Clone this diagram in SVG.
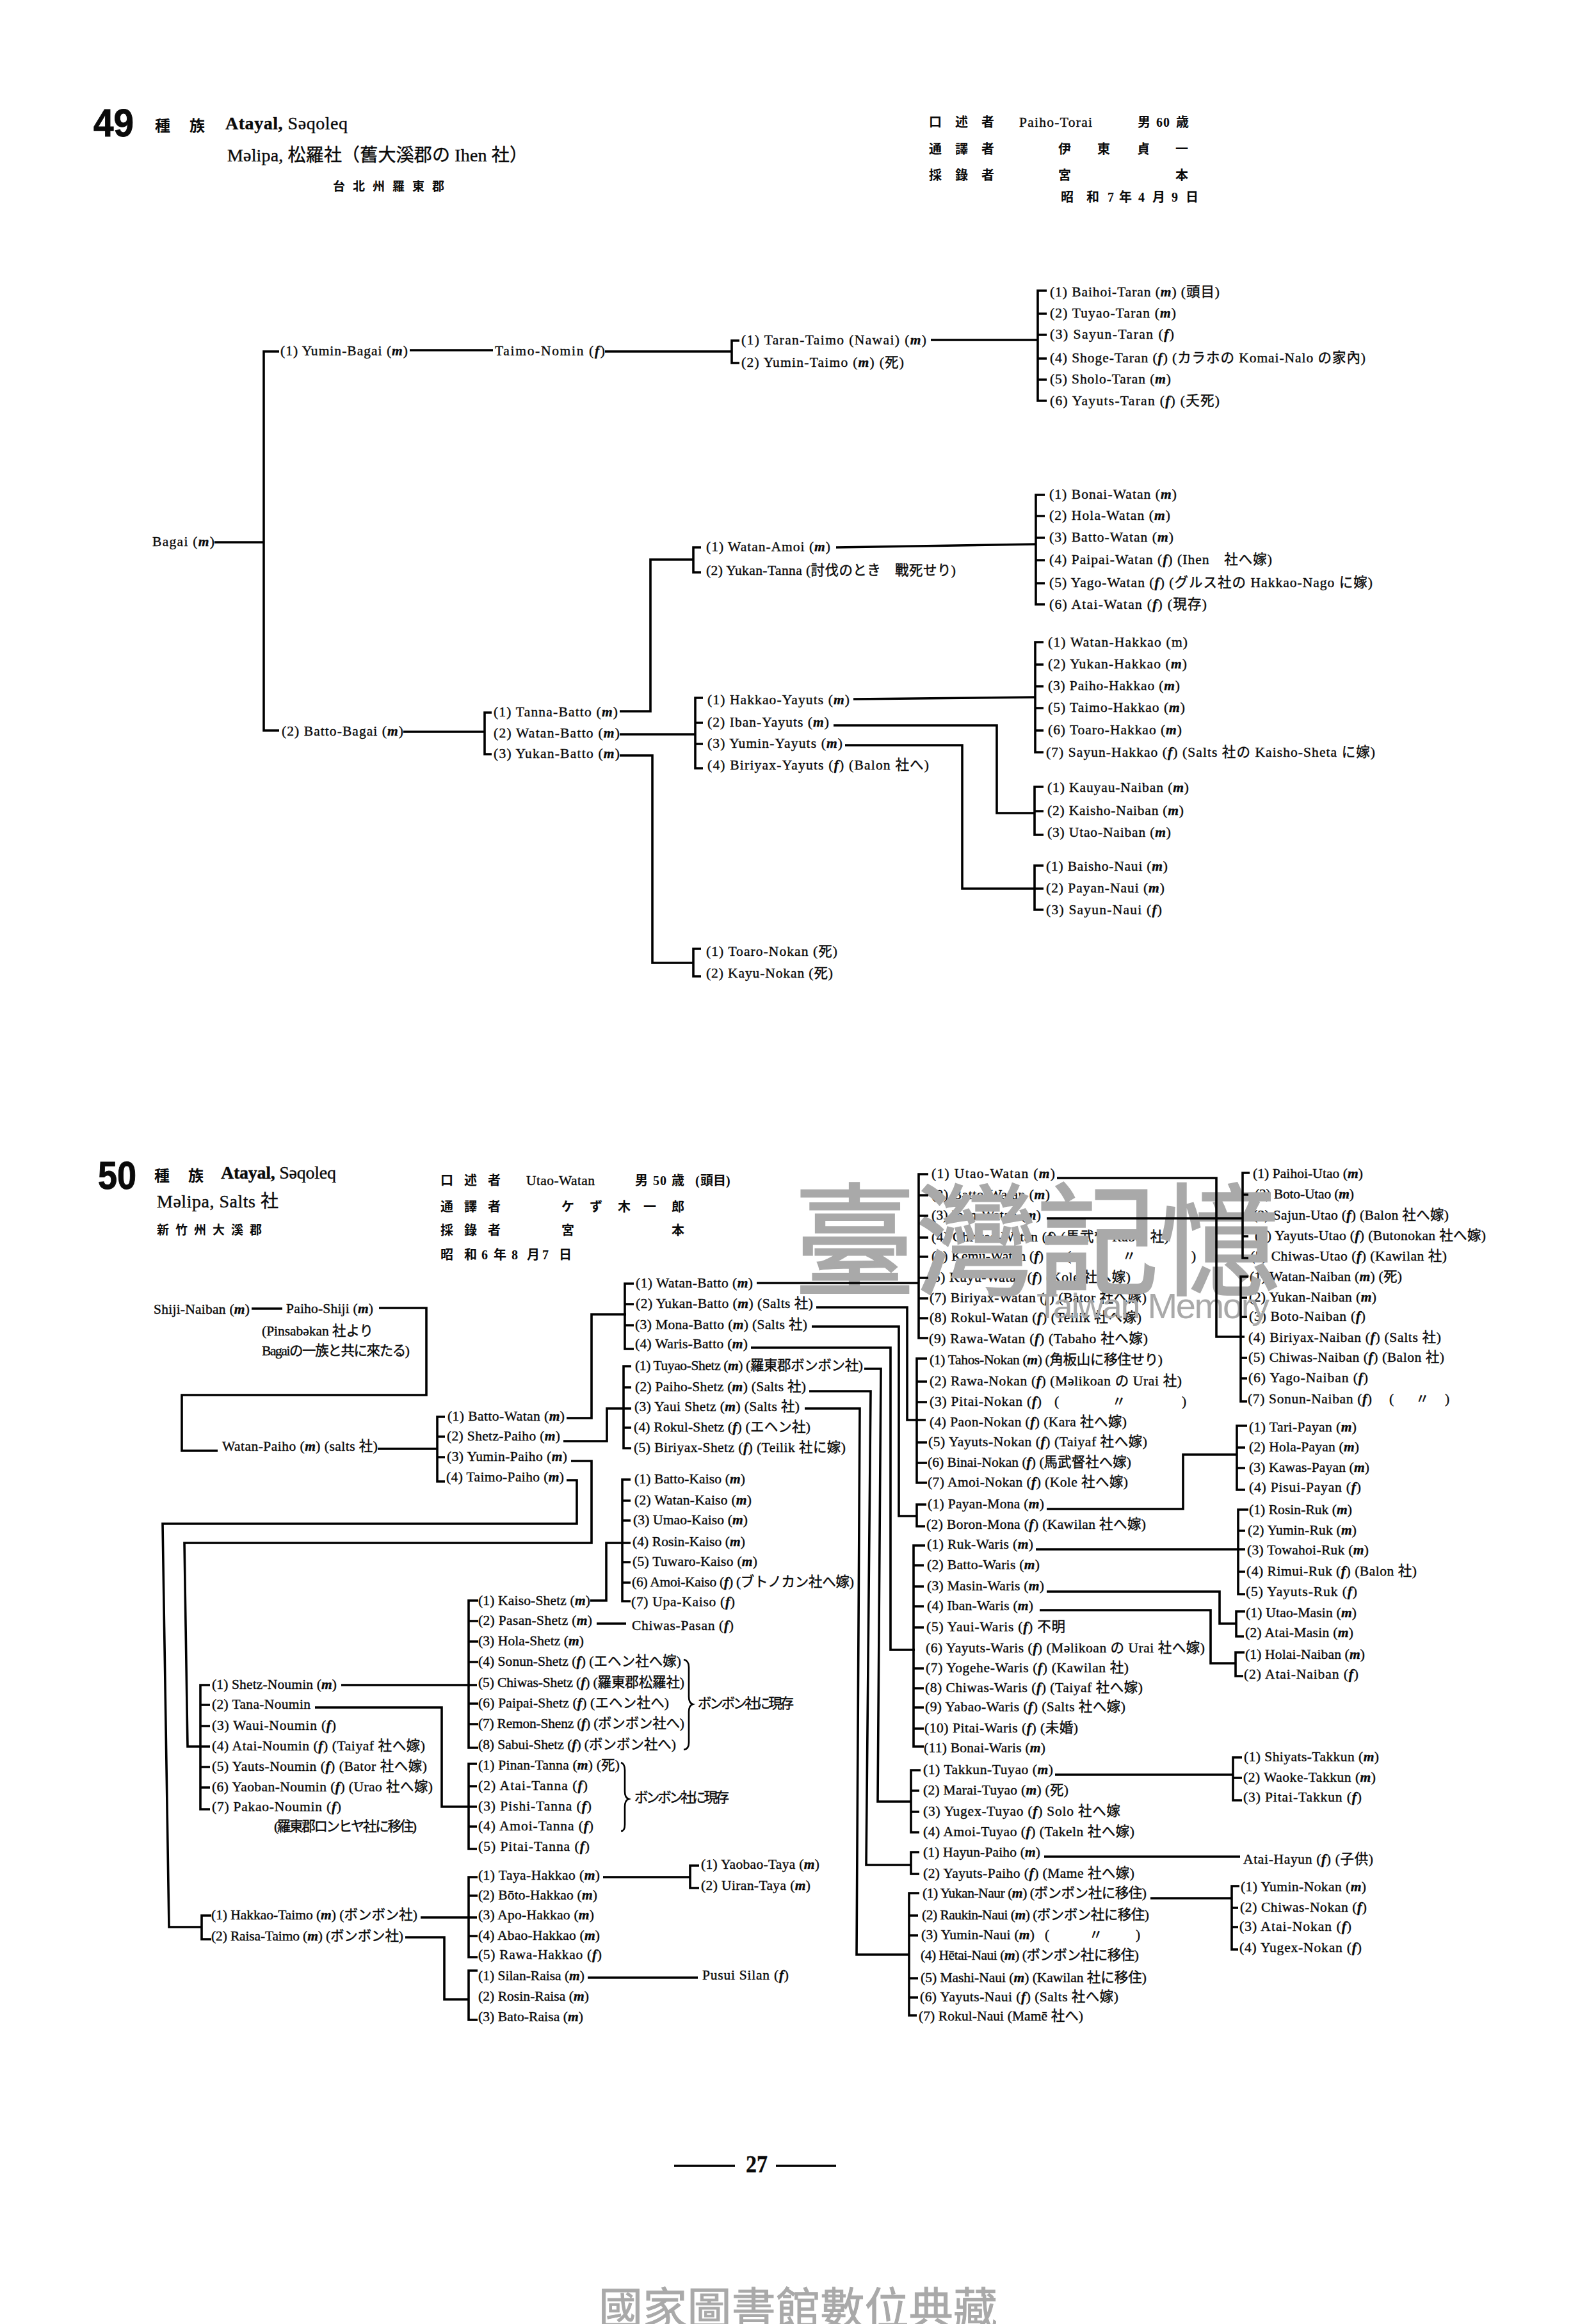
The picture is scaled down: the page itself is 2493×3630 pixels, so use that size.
<svg xmlns="http://www.w3.org/2000/svg" width="2493" height="3630" viewBox="0 0 2493 3630">
<style>
text{font-family:"Liberation Serif","Noto Sans CJK JP",serif;font-size:21.5px;fill:#0a0a0a;stroke:#0a0a0a;stroke-width:.4}
.i{font-style:italic;font-weight:700}
.h{font-weight:700;stroke:none;font-size:20px}
.b{font-weight:700}
.t{font-size:28px}
.num{font-family:"Liberation Sans",sans-serif;font-size:62px;font-weight:700;stroke-width:1}
.wm{font-family:"Noto Sans CJK TC",sans-serif;fill:#a9a9a9;stroke:#a9a9a9;stroke-width:3}
.c{fill:none;stroke:#000;stroke-width:3.6}
.br{fill:none;stroke:#000;stroke-width:2.6}
</style>
<rect width="2493" height="3630" fill="#fff"/>
<g id="header-49">
<text class="num" x="146" y="213" textLength="63" lengthAdjust="spacingAndGlyphs">49</text>
<text class="h" style="font-size:24px" x="242 296" y="205">種族</text>
<text class="t" x="352" y="202" textLength="191"><tspan class="b">Atayal,</tspan> Səqoleq</text>
<text class="t" x="355" y="252" textLength="469">Məlipa, 松羅社（舊大溪郡の Ihen 社）</text>
<text class="h" style="font-size:19px" x="520 551 582 613 644 675" y="298">台北州羅東郡</text>
<text class="h" x="1451 1492 1533" y="198">口述者</text>
<text x="1592" y="198" textLength="114">Paiho-Torai</text>
<text class="h" x="1777 1806 1817 1837" y="198">男60歳</text>
<text class="h" x="1451 1492 1533 1653 1714 1776 1836" y="240">通譯者伊東貞一</text>
<text class="h" x="1451 1492 1533 1653 1836" y="281">採錄者宮本</text>
<text class="h" x="1657 1697 1730 1748 1778 1800 1830 1852" y="315">昭和7年4月9日</text>
</g>
<g id="header-50">
<text class="num" x="153" y="1857" textLength="60" lengthAdjust="spacingAndGlyphs">50</text>
<text class="h" style="font-size:24px" x="241 294" y="1845">種族</text>
<text class="t" x="345" y="1841" textLength="180"><tspan class="b">Atayal,</tspan> Səqoleq</text>
<text class="t" x="245" y="1886" textLength="190">Məlipa, Salts 社</text>
<text class="h" style="font-size:19px" x="245 274 303 332 361 390" y="1928">新竹州大溪郡</text>
<text class="h" x="688 725 762" y="1851">口述者</text>
<text x="822" y="1851" textLength="107">Utao-Watan</text>
<text class="h" x="992 1020 1031 1049 1086 1094 1114 1134" y="1851">男50歳(頭目)</text>
<text class="h" x="688 725 762 877 921 965 1005 1049" y="1892">通譯者ケず木一郎</text>
<text class="h" x="688 725 762 877 1049" y="1929">採錄者宮本</text>
<text class="h" x="688 725 752 771 799 823 847 873" y="1967">昭和6年8月7日</text>
</g>
<g id="nodes-49">
<g id="a1"><text x="238" y="853" textLength="97">Bagai (<tspan class="i">m</tspan>)</text></g>
<g id="a2"><text x="438" y="555" textLength="199">(1) Yumin-Bagai (<tspan class="i">m</tspan>)</text></g>
<g id="a3"><text x="773" y="555" textLength="172">Taimo-Nomin (<tspan class="i">f</tspan>)</text></g>
<g id="a4"><text x="1158" y="538" textLength="289">(1) Taran-Taimo (Nawai) (<tspan class="i">m</tspan>)</text></g>
<g id="a5"><text x="1158" y="573" textLength="254">(2) Yumin-Taimo (<tspan class="i">m</tspan>) (死)</text></g>
<g id="a6"><text x="1640" y="463" textLength="265">(1) Baihoi-Taran (<tspan class="i">m</tspan>) (頭目)</text></g>
<g id="a7"><text x="1640" y="496" textLength="197">(2) Tuyao-Taran (<tspan class="i">m</tspan>)</text></g>
<g id="a8"><text x="1640" y="529" textLength="194">(3) Sayun-Taran (<tspan class="i">f</tspan>)</text></g>
<g id="a9"><text x="1640" y="566" textLength="493">(4) Shoge-Taran (<tspan class="i">f</tspan>) (カラホの Komai-Nalo の家內)</text></g>
<g id="a10"><text x="1640" y="599" textLength="189">(5) Sholo-Taran (<tspan class="i">m</tspan>)</text></g>
<g id="a11"><text x="1640" y="633" textLength="265">(6) Yayuts-Taran (<tspan class="i">f</tspan>) (夭死)</text></g>
<g id="a12"><text x="440" y="1149" textLength="190">(2) Batto-Bagai (<tspan class="i">m</tspan>)</text></g>
<g id="a13"><text x="771" y="1119" textLength="194">(1) Tanna-Batto (<tspan class="i">m</tspan>)</text></g>
<g id="a14"><text x="771" y="1152" textLength="197">(2) Watan-Batto (<tspan class="i">m</tspan>)</text></g>
<g id="a15"><text x="771" y="1184" textLength="197">(3) Yukan-Batto (<tspan class="i">m</tspan>)</text></g>
<g id="a16"><text x="1103" y="861" textLength="194">(1) Watan-Amoi (<tspan class="i">m</tspan>)</text></g>
<g id="a17"><text x="1103" y="898" textLength="390">(2) Yukan-Tanna (討伐のとき　戰死せり)</text></g>
<g id="a18"><text x="1639" y="779" textLength="199">(1) Bonai-Watan (<tspan class="i">m</tspan>)</text></g>
<g id="a19"><text x="1639" y="812" textLength="189">(2) Hola-Watan (<tspan class="i">m</tspan>)</text></g>
<g id="a20"><text x="1639" y="846" textLength="194">(3) Batto-Watan (<tspan class="i">m</tspan>)</text></g>
<g id="a21"><text x="1639" y="881" textLength="348">(4) Paipai-Watan (<tspan class="i">f</tspan>) (Ihen　社へ嫁)</text></g>
<g id="a22"><text x="1639" y="917" textLength="505">(5) Yago-Watan (<tspan class="i">f</tspan>) (グルス社の Hakkao-Nago に嫁)</text></g>
<g id="a23"><text x="1639" y="951" textLength="246">(6) Atai-Watan (<tspan class="i">f</tspan>) (現存)</text></g>
<g id="a24"><text x="1105" y="1100" textLength="222">(1) Hakkao-Yayuts (<tspan class="i">m</tspan>)</text></g>
<g id="a25"><text x="1105" y="1135" textLength="190">(2) Iban-Yayuts (<tspan class="i">m</tspan>)</text></g>
<g id="a26"><text x="1105" y="1168" textLength="211">(3) Yumin-Yayuts (<tspan class="i">m</tspan>)</text></g>
<g id="a27"><text x="1105" y="1202" textLength="346">(4) Biriyax-Yayuts (<tspan class="i">f</tspan>) (Balon 社へ)</text></g>
<g id="a28"><text x="1637" y="1010" textLength="218">(1) Watan-Hakkao (m)</text></g>
<g id="a29"><text x="1637" y="1044" textLength="217">(2) Yukan-Hakkao (<tspan class="i">m</tspan>)</text></g>
<g id="a30"><text x="1637" y="1078" textLength="206">(3) Paiho-Hakkao (<tspan class="i">m</tspan>)</text></g>
<g id="a31"><text x="1637" y="1112" textLength="214">(5) Taimo-Hakkao (<tspan class="i">m</tspan>)</text></g>
<g id="a32"><text x="1637" y="1147" textLength="209">(6) Toaro-Hakkao (<tspan class="i">m</tspan>)</text></g>
<g id="a33"><text x="1634" y="1182" textLength="514">(7) Sayun-Hakkao (<tspan class="i">f</tspan>) (Salts 社の Kaisho-Sheta に嫁)</text></g>
<g id="a34"><text x="1636" y="1237" textLength="221">(1) Kauyau-Naiban (<tspan class="i">m</tspan>)</text></g>
<g id="a35"><text x="1636" y="1273" textLength="213">(2) Kaisho-Naiban (<tspan class="i">m</tspan>)</text></g>
<g id="a36"><text x="1636" y="1307" textLength="193">(3) Utao-Naiban (<tspan class="i">m</tspan>)</text></g>
<g id="a37"><text x="1634" y="1360" textLength="190">(1) Baisho-Naui (<tspan class="i">m</tspan>)</text></g>
<g id="a38"><text x="1634" y="1394" textLength="185">(2) Payan-Naui (<tspan class="i">m</tspan>)</text></g>
<g id="a39"><text x="1634" y="1428" textLength="181">(3) Sayun-Naui (<tspan class="i">f</tspan>)</text></g>
<g id="a40"><text x="1103" y="1493" textLength="205">(1) Toaro-Nokan (死)</text></g>
<g id="a41"><text x="1103" y="1527" textLength="198">(2) Kayu-Nokan (死)</text></g>
</g>
<g id="nodes-50">
<g id="b1"><text x="240" y="2052" textLength="150">Shiji-Naiban (<tspan class="i">m</tspan>)</text></g>
<g id="b2"><text x="447" y="2051" textLength="136">Paiho-Shiji (<tspan class="i">m</tspan>)</text></g>
<g id="b3"><text x="409" y="2086" textLength="174">(Pinsabəkan 社より</text><text x="409" y="2117" textLength="231">Bagaiの一族と共に來たる)</text></g>
<g id="b4"><text x="347" y="2266" textLength="243">Watan-Paiho (<tspan class="i">m</tspan>) (salts 社)</text></g>
<g id="b5"><text x="699" y="2219" textLength="183">(1) Batto-Watan (<tspan class="i">m</tspan>)</text></g>
<g id="b6"><text x="698" y="2250" textLength="177">(2) Shetz-Paiho (<tspan class="i">m</tspan>)</text></g>
<g id="b7"><text x="698" y="2282" textLength="188">(3) Yumin-Paiho (<tspan class="i">m</tspan>)</text></g>
<g id="b8"><text x="697" y="2314" textLength="184">(4) Taimo-Paiho (<tspan class="i">m</tspan>)</text></g>
<g id="b9"><text x="993" y="2011" textLength="183">(1) Watan-Batto (<tspan class="i">m</tspan>)</text></g>
<g id="b10"><text x="993" y="2043" textLength="277">(2) Yukan-Batto (<tspan class="i">m</tspan>) (Salts 社)</text></g>
<g id="b11"><text x="992" y="2076" textLength="269">(3) Mona-Batto (<tspan class="i">m</tspan>) (Salts 社)</text></g>
<g id="b12"><text x="992" y="2106" textLength="176">(4) Waris-Batto (<tspan class="i">m</tspan>)</text></g>
<g id="b13"><text x="992" y="2140" textLength="356">(1) Tuyao-Shetz (<tspan class="i">m</tspan>) (羅東郡ボンボン社)</text></g>
<g id="b14"><text x="992" y="2173" textLength="267">(2) Paiho-Shetz (<tspan class="i">m</tspan>) (Salts 社)</text></g>
<g id="b15"><text x="991" y="2204" textLength="258">(3) Yaui Shetz (<tspan class="i">m</tspan>) (Salts 社)</text></g>
<g id="b16"><text x="990" y="2236" textLength="276">(4) Rokul-Shetz (<tspan class="i">f</tspan>) (エヘン社)</text></g>
<g id="b17"><text x="990" y="2268" textLength="331">(5) Biriyax-Shetz (<tspan class="i">f</tspan>) (Teilik 社に嫁)</text></g>
<g id="b18"><text x="991" y="2317" textLength="173">(1) Batto-Kaiso (<tspan class="i">m</tspan>)</text></g>
<g id="b19"><text x="991" y="2350" textLength="183">(2) Watan-Kaiso (<tspan class="i">m</tspan>)</text></g>
<g id="b20"><text x="989" y="2381" textLength="179">(3) Umao-Kaiso (<tspan class="i">m</tspan>)</text></g>
<g id="b21"><text x="988" y="2415" textLength="176">(4) Rosin-Kaiso (<tspan class="i">m</tspan>)</text></g>
<g id="b22"><text x="988" y="2446" textLength="195">(5) Tuwaro-Kaiso (<tspan class="i">m</tspan>)</text></g>
<g id="b23"><text x="987" y="2478" textLength="347">(6) Amoi-Kaiso (<tspan class="i">f</tspan>) (ブトノカン社へ嫁)</text></g>
<g id="b24"><text x="986" y="2509" textLength="162">(7) Upa-Kaiso (<tspan class="i">f</tspan>)</text></g>
<g id="b25"><text x="987" y="2546" textLength="159">Chiwas-Pasan (<tspan class="i">f</tspan>)</text></g>
<g id="b26"><text x="747" y="2507" textLength="175">(1) Kaiso-Shetz (<tspan class="i">m</tspan>)</text></g>
<g id="b27"><text x="747" y="2538" textLength="178">(2) Pasan-Shetz (<tspan class="i">m</tspan>)</text></g>
<g id="b28"><text x="747" y="2570" textLength="165">(3) Hola-Shetz (<tspan class="i">m</tspan>)</text></g>
<g id="b29"><text x="747" y="2602" textLength="317">(4) Sonun-Shetz (<tspan class="i">f</tspan>) (エヘン社へ嫁)</text></g>
<g id="b30"><text x="747" y="2635" textLength="322">(5) Chiwas-Shetz (<tspan class="i">f</tspan>) (羅東郡松羅社)</text></g>
<g id="b31"><text x="747" y="2667" textLength="298">(6) Paipai-Shetz (<tspan class="i">f</tspan>) (エヘン社へ)</text></g>
<g id="b32"><text x="747" y="2699" textLength="322">(7) Remon-Shenz (<tspan class="i">f</tspan>) (ボンボン社へ)</text></g>
<g id="b33"><text x="747" y="2732" textLength="309">(8) Sabui-Shetz (<tspan class="i">f</tspan>) (ボンボン社へ)</text></g>
<g id="b34"><text x="1090" y="2668" textLength="150">ボンボン社に現存</text></g>
<g id="b35"><text x="747" y="2764" textLength="221">(1) Pinan-Tanna (<tspan class="i">m</tspan>) (死)</text></g>
<g id="b36"><text x="747" y="2796" textLength="171">(2) Atai-Tanna (<tspan class="i">f</tspan>)</text></g>
<g id="b37"><text x="747" y="2828" textLength="177">(3) Pishi-Tanna (<tspan class="i">f</tspan>)</text></g>
<g id="b38"><text x="747" y="2859" textLength="180">(4) Amoi-Tanna (<tspan class="i">f</tspan>)</text></g>
<g id="b39"><text x="747" y="2891" textLength="174">(5) Pitai-Tanna (<tspan class="i">f</tspan>)</text></g>
<g id="b40"><text x="991" y="2815" textLength="148">ボンボン社に現存</text></g>
<g id="b41"><text x="331" y="2638" textLength="195">(1) Shetz-Noumin (<tspan class="i">m</tspan>)</text></g>
<g id="b42"><text x="331" y="2669" textLength="154">(2) Tana-Noumin</text></g>
<g id="b43"><text x="331" y="2702" textLength="194">(3) Waui-Noumin (<tspan class="i">f</tspan>)</text></g>
<g id="b44"><text x="331" y="2734" textLength="333">(4) Atai-Noumin (<tspan class="i">f</tspan>) (Taiyaf 社へ嫁)</text></g>
<g id="b45"><text x="331" y="2766" textLength="336">(5) Yauts-Noumin (<tspan class="i">f</tspan>) (Bator 社へ嫁)</text></g>
<g id="b46"><text x="331" y="2798" textLength="345">(6) Yaoban-Noumin (<tspan class="i">f</tspan>) (Urao 社へ嫁)</text></g>
<g id="b47"><text x="331" y="2829" textLength="202">(7) Pakao-Noumin (<tspan class="i">f</tspan>)</text></g>
<g id="b48"><text x="428" y="2860" textLength="223">(羅東郡ロンヒヤ社に移住)</text></g>
<g id="b49"><text x="330" y="2998" textLength="322">(1) Hakkao-Taimo (<tspan class="i">m</tspan>) (ボンボン社)</text></g>
<g id="b50"><text x="330" y="3031" textLength="300">(2) Raisa-Taimo (<tspan class="i">m</tspan>) (ボンボン社)</text></g>
<g id="b51"><text x="747" y="2936" textLength="190">(1) Taya-Hakkao (<tspan class="i">m</tspan>)</text></g>
<g id="b52"><text x="747" y="2967" textLength="186">(2) Bōto-Hakkao (<tspan class="i">m</tspan>)</text></g>
<g id="b53"><text x="747" y="2998" textLength="181">(3) Apo-Hakkao (<tspan class="i">m</tspan>)</text></g>
<g id="b54"><text x="747" y="3030" textLength="190">(4) Abao-Hakkao (<tspan class="i">m</tspan>)</text></g>
<g id="b55"><text x="747" y="3060" textLength="193">(5) Rawa-Hakkao (<tspan class="i">f</tspan>)</text></g>
<g id="b56"><text x="747" y="3093" textLength="166">(1) Silan-Raisa (<tspan class="i">m</tspan>)</text></g>
<g id="b57"><text x="747" y="3125" textLength="173">(2) Rosin-Raisa (<tspan class="i">m</tspan>)</text></g>
<g id="b58"><text x="747" y="3157" textLength="164">(3) Bato-Raisa (<tspan class="i">m</tspan>)</text></g>
<g id="b59"><text x="1095" y="2919" textLength="185">(1) Yaobao-Taya (<tspan class="i">m</tspan>)</text></g>
<g id="b60"><text x="1095" y="2952" textLength="171">(2) Uiran-Taya (<tspan class="i">m</tspan>)</text></g>
<g id="b61"><text x="1097" y="3092" textLength="135">Pusui Silan (<tspan class="i">f</tspan>)</text></g>
<g id="c1"><text x="1455" y="1840" textLength="193">(1) Utao-Watan (<tspan class="i">m</tspan>)</text></g>
<g id="c2"><text x="1455" y="1873" textLength="185">(2) Batto-Watan (<tspan class="i">m</tspan>)</text></g>
<g id="c3"><text x="1455" y="1905" textLength="171">(3) Iban-Watan (<tspan class="i">m</tspan>)</text></g>
<g id="c4"><text x="1455" y="1939" textLength="371">(4) Chiwas-Watan (<tspan class="i">f</tspan>) (馬武督 Rabai 社)</text></g>
<g id="c5"><text x="1455" y="1969" textLength="175">(5) Kemu-Watan (<tspan class="i">f</tspan>)</text><text x="1666 1753 1861" y="1969">(〃)</text></g>
<g id="c6"><text x="1450" y="2002" textLength="316">(6) Kuyu-Watan (<tspan class="i">f</tspan>) (Kole 社へ嫁)</text></g>
<g id="c7"><text x="1452" y="2034" textLength="339">(7) Biriyax-Watan (<tspan class="i">f</tspan>) (Bator 社へ嫁)</text></g>
<g id="c8"><text x="1452" y="2065" textLength="331">(8) Rokul-Watan (<tspan class="i">f</tspan>) (Teilik 社へ嫁)</text></g>
<g id="c9"><text x="1451" y="2098" textLength="342">(9) Rawa-Watan (<tspan class="i">f</tspan>) (Tabaho 社へ嫁)</text></g>
<g id="c10"><text x="1452" y="2131" textLength="364">(1) Tahos-Nokan (<tspan class="i">m</tspan>) (角板山に移住せり)</text></g>
<g id="c11"><text x="1452" y="2164" textLength="394">(2) Rawa-Nokan (<tspan class="i">f</tspan>) (Məlikoan の Urai 社)</text></g>
<g id="c12"><text x="1452" y="2196" textLength="175">(3) Pitai-Nokan (<tspan class="i">f</tspan>)</text><text x="1647 1737 1846" y="2196">(〃)</text></g>
<g id="c13"><text x="1452" y="2228" textLength="308">(4) Paon-Nokan (<tspan class="i">f</tspan>) (Kara 社へ嫁)</text></g>
<g id="c14"><text x="1450" y="2259" textLength="342">(5) Yayuts-Nokan (<tspan class="i">f</tspan>) (Taiyaf 社へ嫁)</text></g>
<g id="c15"><text x="1449" y="2291" textLength="318">(6) Binai-Nokan (<tspan class="i">f</tspan>) (馬武督社へ嫁)</text></g>
<g id="c16"><text x="1449" y="2322" textLength="313">(7) Amoi-Nokan (<tspan class="i">f</tspan>) (Kole 社へ嫁)</text></g>
<g id="c17"><text x="1449" y="2356" textLength="182">(1) Payan-Mona (<tspan class="i">m</tspan>)</text></g>
<g id="c18"><text x="1447" y="2388" textLength="343">(2) Boron-Mona (<tspan class="i">f</tspan>) (Kawilan 社へ嫁)</text></g>
<g id="c19"><text x="1448" y="2419" textLength="166">(1) Ruk-Waris (<tspan class="i">m</tspan>)</text></g>
<g id="c20"><text x="1448" y="2451" textLength="176">(2) Batto-Waris (<tspan class="i">m</tspan>)</text></g>
<g id="c21"><text x="1448" y="2484" textLength="183">(3) Masin-Waris (<tspan class="i">m</tspan>)</text></g>
<g id="c22"><text x="1448" y="2515" textLength="166">(4) Iban-Waris (<tspan class="i">m</tspan>)</text></g>
<g id="c23"><text x="1447" y="2548" textLength="217">(5) Yaui-Waris (<tspan class="i">f</tspan>) 不明</text></g>
<g id="c24"><text x="1446" y="2581" textLength="436">(6) Yayuts-Waris (<tspan class="i">f</tspan>) (Məlikoan の Urai 社へ嫁)</text></g>
<g id="c25"><text x="1446" y="2612" textLength="317">(7) Yogehe-Waris (<tspan class="i">f</tspan>) (Kawilan 社)</text></g>
<g id="c26"><text x="1445" y="2643" textLength="340">(8) Chiwas-Waris (<tspan class="i">f</tspan>) (Taiyaf 社へ嫁)</text></g>
<g id="c27"><text x="1445" y="2673" textLength="313">(9) Yabao-Waris (<tspan class="i">f</tspan>) (Salts 社へ嫁)</text></g>
<g id="c28"><text x="1444" y="2706" textLength="240">(10) Pitai-Waris (<tspan class="i">f</tspan>) (未婚)</text></g>
<g id="c29"><text x="1443" y="2737" textLength="190">(11) Bonai-Waris (<tspan class="i">m</tspan>)</text></g>
<g id="c30"><text x="1442" y="2771" textLength="203">(1) Takkun-Tuyao (<tspan class="i">m</tspan>)</text></g>
<g id="c31"><text x="1442" y="2803" textLength="227">(2) Marai-Tuyao (<tspan class="i">m</tspan>) (死)</text></g>
<g id="c32"><text x="1442" y="2836" textLength="308">(3) Yugex-Tuyao (<tspan class="i">f</tspan>) Solo 社へ嫁</text></g>
<g id="c33"><text x="1442" y="2868" textLength="330">(4) Amoi-Tuyao (<tspan class="i">f</tspan>) (Takeln 社へ嫁)</text></g>
<g id="c34"><text x="1442" y="2900" textLength="183">(1) Hayun-Paiho (<tspan class="i">m</tspan>)</text></g>
<g id="c35"><text x="1442" y="2933" textLength="330">(2) Yayuts-Paiho (<tspan class="i">f</tspan>) (Mame 社へ嫁)</text></g>
<g id="c36"><text x="1441" y="2964" textLength="350">(1) Yukan-Naur (<tspan class="i">m</tspan>) (ボンボン社に移住)</text></g>
<g id="c37"><text x="1440" y="2998" textLength="355">(2) Raukin-Naui (<tspan class="i">m</tspan>) (ボンボン社に移住)</text></g>
<g id="c38"><text x="1439" y="3029" textLength="177">(3) Yumin-Naui (<tspan class="i">m</tspan>)</text><text x="1632 1701 1774" y="3029">(〃)</text></g>
<g id="c39"><text x="1438" y="3061" textLength="341">(4) Hētai-Naui (<tspan class="i">m</tspan>) (ボンボン社に移住)</text></g>
<g id="c40"><text x="1438" y="3096" textLength="353">(5) Mashi-Naui (<tspan class="i">m</tspan>) (Kawilan 社に移住)</text></g>
<g id="c41"><text x="1437" y="3126" textLength="310">(6) Yayuts-Naui (<tspan class="i">f</tspan>) (Salts 社へ嫁)</text></g>
<g id="c42"><text x="1435" y="3156" textLength="257">(7) Rokul-Naui (Mamē 社へ)</text></g>
<g id="d1"><text x="1957" y="1840" textLength="172">(1) Paihoi-Utao (<tspan class="i">m</tspan>)</text></g>
<g id="d2"><text x="1960" y="1872" textLength="155">(2) Boto-Utao (<tspan class="i">m</tspan>)</text></g>
<g id="d3"><text x="1957" y="1905" textLength="306">(3) Sajun-Utao (<tspan class="i">f</tspan>) (Balon 社へ嫁)</text></g>
<g id="d4"><text x="1960" y="1937" textLength="361">(4) Yayuts-Utao (<tspan class="i">f</tspan>) (Butonokan 社へ嫁)</text></g>
<g id="d5"><text x="1953" y="1969" textLength="307">(5) Chiwas-Utao (<tspan class="i">f</tspan>) (Kawilan 社)</text></g>
<g id="d6"><text x="1952" y="2001" textLength="238">(1) Watan-Naiban (<tspan class="i">m</tspan>) (死)</text></g>
<g id="d7"><text x="1951" y="2033" textLength="199">(2) Yukan-Naiban (<tspan class="i">m</tspan>)</text></g>
<g id="d8"><text x="1951" y="2063" textLength="182">(3) Boto-Naiban (<tspan class="i">f</tspan>)</text></g>
<g id="d9"><text x="1950" y="2096" textLength="301">(4) Biriyax-Naiban (<tspan class="i">f</tspan>) (Salts 社)</text></g>
<g id="d10"><text x="1950" y="2127" textLength="306">(5) Chiwas-Naiban (<tspan class="i">f</tspan>) (Balon 社)</text></g>
<g id="d11"><text x="1950" y="2159" textLength="187">(6) Yago-Naiban (<tspan class="i">f</tspan>)</text></g>
<g id="d12"><text x="1949" y="2192" textLength="194">(7) Sonun-Naiban (<tspan class="i">f</tspan>)</text><text x="2170 2211 2257" y="2192">(〃)</text></g>
<g id="d13"><text x="1951" y="2236" textLength="168">(1) Tari-Payan (<tspan class="i">m</tspan>)</text></g>
<g id="d14"><text x="1951" y="2267" textLength="172">(2) Hola-Payan (<tspan class="i">m</tspan>)</text></g>
<g id="d15"><text x="1951" y="2299" textLength="188">(3) Kawas-Payan (<tspan class="i">m</tspan>)</text></g>
<g id="d16"><text x="1951" y="2330" textLength="175">(4) Pisui-Payan (<tspan class="i">f</tspan>)</text></g>
<g id="d17"><text x="1951" y="2365" textLength="161">(1) Rosin-Ruk (<tspan class="i">m</tspan>)</text></g>
<g id="d18"><text x="1949" y="2397" textLength="170">(2) Yumin-Ruk (<tspan class="i">m</tspan>)</text></g>
<g id="d19"><text x="1948" y="2428" textLength="190">(3) Towahoi-Ruk (<tspan class="i">m</tspan>)</text></g>
<g id="d20"><text x="1947" y="2461" textLength="266">(4) Rimui-Ruk (<tspan class="i">f</tspan>) (Balon 社)</text></g>
<g id="d21"><text x="1946" y="2493" textLength="174">(5) Yayuts-Ruk (<tspan class="i">f</tspan>)</text></g>
<g id="d22"><text x="1946" y="2526" textLength="173">(1) Utao-Masin (<tspan class="i">m</tspan>)</text></g>
<g id="d23"><text x="1945" y="2557" textLength="169">(2) Atai-Masin (<tspan class="i">m</tspan>)</text></g>
<g id="d24"><text x="1945" y="2591" textLength="187">(1) Holai-Naiban (<tspan class="i">m</tspan>)</text></g>
<g id="d25"><text x="1943" y="2622" textLength="179">(2) Atai-Naiban (<tspan class="i">f</tspan>)</text></g>
<g id="d26"><text x="1943" y="2751" textLength="211">(1) Shiyats-Takkun (<tspan class="i">m</tspan>)</text></g>
<g id="d27"><text x="1942" y="2783" textLength="207">(2) Waoke-Takkun (<tspan class="i">m</tspan>)</text></g>
<g id="d28"><text x="1942" y="2814" textLength="185">(3) Pitai-Takkun (<tspan class="i">f</tspan>)</text></g>
<g id="d29"><text x="1942" y="2911" textLength="203">Atai-Hayun (<tspan class="i">f</tspan>) (子供)</text></g>
<g id="d30"><text x="1938" y="2954" textLength="196">(1) Yumin-Nokan (<tspan class="i">m</tspan>)</text></g>
<g id="d31"><text x="1937" y="2986" textLength="198">(2) Chiwas-Nokan (<tspan class="i">f</tspan>)</text></g>
<g id="d32"><text x="1936" y="3016" textLength="175">(3) Atai-Nokan (<tspan class="i">f</tspan>)</text></g>
<g id="d33"><text x="1936" y="3049" textLength="191">(4) Yugex-Nokan (<tspan class="i">f</tspan>)</text></g>
</g>
<g id="watermark">
<text class="wm" style="font-size:190px;font-weight:400" x="1240" y="2008">臺灣記憶</text>
<text style="font-family:'Liberation Sans',sans-serif;font-size:56px;fill:#a9a9a9;stroke:none" x="1619" y="2059" textLength="364">Taiwan Memory</text>
</g>
<g id="connectors">
<path class="c" d="M335,847H412M640,547H770M945,549H1143M1454,531H1621M630,1143H757M968,1111H1016V874H1083M968,1147H1086M968,1180H1019V1504H1083M1306,855L1618,850M1333,1092L1617,1089M1302,1133H1557V1270H1616M1320,1164H1503V1388H1616"/>
<path class="c" d="M436,549H412V1141H436M1155,532H1143V567H1155M1635,454H1621V626H1635M1621,490H1635M1621,523H1635M1621,560H1635M1621,593H1635M768,1113H757V1178H768M1095,855H1083V894H1095M1098,1090H1086V1200H1098M1086,1129H1098M1086,1162H1098M1095,1482H1083V1525H1095M1632,773H1618V944H1632M1618,806H1632M1618,840H1632M1618,875H1632M1618,911H1632M1630,1003H1617V1175H1630M1617,1038H1630M1617,1072H1630M1617,1106H1630M1617,1141H1630M1630,1229H1616V1304H1630M1616,1267H1630M1630,1352H1616V1421H1630M1616,1388H1630"/>
<path class="c" d="M393,2044H441M592,2043H666V2179H284V2266H340M590,2263H683M885,2215H924V2053H978M880,2251H948V2200H986M892,2282H924V2410H288L293,2728H328M885,2312H901V2380H254L264,3010H315M533,2632H745M492,2667H690V2822H745M657,2995H745M633,3026H694V3123H732M922,2500H947V2410H985M932,2536H978M942,2932H1078M918,3089H1090M1182,2004H1435M1275,2042H1417V2218H1446M1268,2072H1404V2368H1432M1173,2105H1391V2577H1429M1350,2138H1376L1371,2814H1423M1264,2173H1360L1353,2913H1423M1257,2200H1343L1338,3053H1420M1651,1840H1900V2088H1944M1635,1903H1941M1635,2357H1848V2272H1932M1618,2420H1945M1635,2486H1905V2536H1931M1624,2515H1891V2598H1930M1648,2772H1926M1631,2900H1937M1797,2965H1924"/>
<path class="c" d="M695,2213H683V2314H695M683,2244H695M683,2276H695M990,2005H976V2107H990M976,2037H990M976,2070H990M986,2134H974V2262H986M974,2167H986M974,2230H986M328,2632H313V2826H328M313,2663H328M313,2696H328M313,2760H328M313,2792H328M330,2992H315V3029H330M747,2500H732V2730H747M732,2532H747M732,2564H747M732,2596H747M732,2661H747M732,2693H747M745,2755H732V2888H745M732,2790H745M732,2853H745M746,2932H732V3057H746M732,2961H746M732,3024H746M746,3078H732V3155H746M985,2311H972V2501H985M972,2344H985M972,2375H985M972,2440H985M972,2472H985M1092,2914H1078V2949H1092"/>
<path class="c" d="M1450,1834H1435V2090H1450M1435,1867H1450M1435,1899H1450M1435,1933H1450M1435,1963H1450M1435,1996H1450M1435,2028H1450M1435,2059H1450M1448,2122H1432V2316H1448M1432,2158H1448M1432,2190H1448M1432,2253H1448M1432,2285H1448M1447,2350H1432V2384H1445M1445,2414H1427V2728H1443M1427,2445H1443M1427,2478H1443M1427,2509H1443M1427,2542H1443M1427,2606H1443M1427,2637H1443M1427,2667H1443M1427,2700H1443M1438,2765H1423V2862H1436M1423,2797H1436M1423,2830H1436M1436,2893H1423V2927H1436M1436,2957H1420V3148H1432M1420,2992H1434M1420,3023H1434M1420,3090H1434M1420,3120H1434"/>
<path class="c" d="M1952,1832H1941V1965H1950M1941,1866H1950M1941,1931H1950M1950,1994H1938V2189H1948M1938,2027H1948M1938,2057H1948M1938,2121H1948M1938,2153H1948M1948,2227H1932V2327H1945M1932,2261H1945M1932,2293H1945M1950,2358H1934V2490H1945M1934,2391H1945M1934,2455H1945M1945,2517H1931V2556H1943M1944,2581H1930V2618H1942M1940,2745H1926V2812H1940M1926,2777H1940M1936,2946H1924V3045H1934M1924,2980H1934M1924,3010H1934"/>
<path class="br" d="M1068,2592Q1076,2594 1076,2604V2650Q1076,2660 1082,2662Q1076,2664 1076,2674V2722Q1076,2732 1068,2733M970,2753Q976,2755 976,2765V2798Q976,2808 982,2810Q976,2812 976,2822V2850Q976,2860 970,2860"/>
</g>
<g id="footer">
<path class="c" d="M1053,3383H1148M1212,3383H1306"/>
<text class="b" style="font-size:38px" x="1165" y="3393" textLength="34" lengthAdjust="spacingAndGlyphs">27</text>
<text class="wm" style="font-size:69px;stroke-width:1" x="935" y="3631" textLength="623">國家圖書館數位典藏</text>
</g>
</svg>
